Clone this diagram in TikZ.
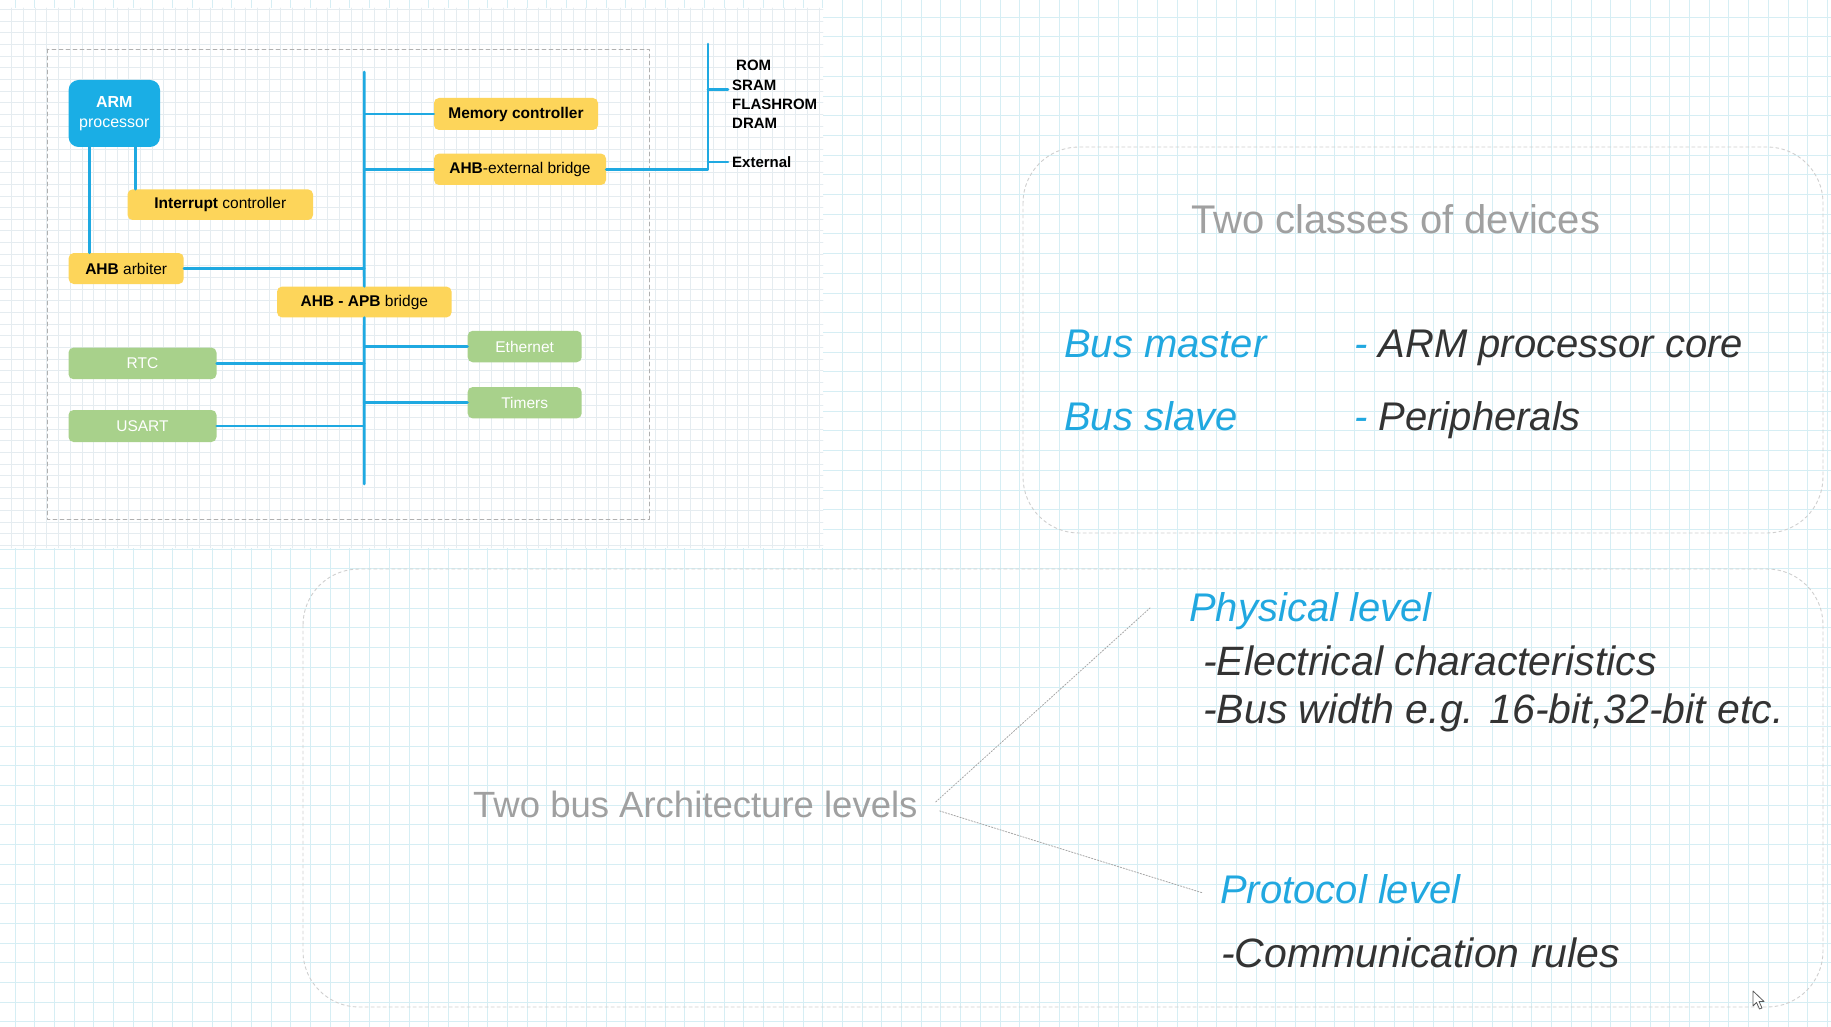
\documentclass[tikz,border=0pt]{standalone}
\usepackage{fontspec}
\setmainfont{Liberation Sans}
\definecolor{armblue}{HTML}{1AAEE5}
\definecolor{busblue}{HTML}{1FA9E1}
\definecolor{ahbyellow}{HTML}{FDD55A}
\definecolor{apbgreen}{HTML}{A8D18B}
\definecolor{gridcyan}{HTML}{D6EEF4}
\definecolor{gridgrey}{HTML}{E5ECF0}
\definecolor{panelgrey}{HTML}{CFCFCF}
\definecolor{titlegrey}{HTML}{A0A0A0}
\definecolor{textdark}{HTML}{333333}
\definecolor{textblue}{HTML}{21A8E0}
\newcommand{\fsz}[2]{\fontsize{#1}{#2}\selectfont}
\begin{document}
\begin{tikzpicture}[x=1pt, y=-1pt, line join=round, line cap=round,
  bus/.style={draw=busblue, line width=2.6pt},
  blk/.style={rounded corners=5pt, inner sep=0pt, font=\fsz{15.5}{19}},
  ahbblk/.style={blk, fill=ahbyellow, text=black},
  apbblk/.style={blk, fill=apbgreen, text=white},
  gridline/.style={draw=gridcyan, line width=0.9pt},
  finegrid/.style={draw=gridgrey, line width=0.7pt},
  panel/.style={draw=panelgrey, dash pattern=on 3pt off 3pt, line width=0.9pt, rounded corners=56pt},
  big/.style={anchor=base west, inner sep=0pt, font=\fsz{40}{48}\itshape},
  bigger/.style={big, font=\fsz{41}{48}\itshape},
  dotline/.style={draw=gray!70, dash pattern=on 1.5pt off 1.5pt, line width=0.8pt}]
	\useasboundingbox (0,0) rectangle (1831,1027);
	
	% squared paper
	\fill[white] (0,0) rectangle (1831,1027);
	\foreach \i in {0,...,92}
	\draw[gridline] ({15+19.7*\i},0) -- ({15+19.7*\i},1027);
	\foreach \j in {0,...,51}
	\draw[gridline] (0,{17.2+19.7*\j}) -- (1831,{17.2+19.7*\j});
	\fill[white] (0,8) rectangle (823,548);
	\foreach \i in {1,...,70}
	\draw[finegrid] ({11.7*\i},8) -- ({11.7*\i},548);
	\foreach \j in {0,...,46}
	\draw[finegrid] (0,{9.5+11.65*\j}) -- (823,{9.5+11.65*\j});
	
	\draw[panelgrey!85!black, dash pattern=on 4pt off 3pt, line width=0.9pt] (47,49) rectangle (649,519);
	
	\path
	(364.2,72) coordinate (busT)
	(364.2,484) coordinate (busB)
	(708,44) coordinate (extT);
	
	\node[fill=armblue, rounded corners=10pt, minimum width=91.4pt, minimum height=67pt, text=white, align=center, font=\fsz{16}{20}] (ARM) at (114.3,113.5) {\textbf{ARM}\\processor};
	\node[ahbblk, minimum width=185.5pt, minimum height=30.6pt] (intr) at (220.3,204.7) {\textbf{Interrupt} controller};
	\node[ahbblk, minimum width=115pt, minimum height=31pt] (arb) at (126.2,268.5) {\textbf{AHB} arbiter};
	\node[ahbblk, minimum width=164pt, minimum height=32pt] (mem) at (516,114) {\textbf{Memory controller}};
	\node[ahbblk, minimum width=172pt, minimum height=31.4pt] (ext) at (520,169.3) {\textbf{AHB}-external bridge};
	\node[ahbblk, minimum width=174.5pt, minimum height=30.8pt] (apb) at (364.3,302) {\textbf{AHB - APB} bridge};
	\node[apbblk, minimum width=114pt, minimum height=31.5pt] (eth) at (524.7,346.5) {Ethernet};
	\node[apbblk, minimum width=114pt, minimum height=31.4pt] (tim) at (524.7,402.7) {Timers};
	\node[apbblk, minimum width=148pt, minimum height=31.6pt] (rtc) at (142.5,363.4) {RTC};
	\node[apbblk, minimum width=148pt, minimum height=32pt] (usart) at (142.5,426) {USART};
	\node[anchor=west, inner sep=4pt, align=left, font=\fsz{15}{19.3}\bfseries] (mlist) at (728,94.5) {\hspace*{4pt}ROM\\SRAM\\FLASHROM\\DRAM};
	\node[anchor=west, inner sep=4pt, font=\fsz{15}{18}\bfseries] (extl) at (728,162) {External};
	
	\path
	([xshift=21pt]ARM.south west) coordinate (armL)
	([xshift=-24.5pt]ARM.south east) coordinate (armR);
	
	\draw[bus] (busT) -- (apb.north);
	\draw[bus] (apb.south) -- (busB);
	\draw[bus] (armL) -- (armL |- arb.north);
	\draw[bus] (armR) -- (armR |- intr.north);
	\draw[bus] (arb.east) -- (arb.east -| busT);
	\draw[bus] (mem.west) -- (mem.west -| busT);
	\draw[bus] (ext.west) -- (ext.west -| busT);
	\draw[bus] (eth.west) -- (eth.west -| busT);
	\draw[bus] (tim.west) -- (tim.west -| busT);
	\draw[bus] (rtc.east) -- (rtc.east -| busT);
	\draw[bus] (usart.east) -- (usart.east -| busT);
	\draw[bus] (extT) |- (ext.east);
	\draw[bus] ([yshift=5pt]mlist.west) -- ++(-20,0);
	\draw[bus] (extl.west) -- (extl.west -| extT);
	
	% two classes of devices
	\draw[panel] (1023,147) rectangle (1823,533);
	\node[anchor=base west, inner sep=0pt, font=\fsz{40}{48}, text=titlegrey] (classes) at (1191,233.5) {Two classes of devices};
	\node[big, text=textblue] (master) at (1064,357) {Bus master};
	\node[big, text=textdark] (core) at (1354,357) {\textcolor{textblue}{-} ARM processor core};
	\node[big, text=textblue] (slave) at (1064,430) {Bus slave};
	\node[big, text=textdark] (periph) at (1354,430) {\textcolor{textblue}{-} Peripherals};
	
	% two bus architecture levels
	\draw[panel] (303,569) rectangle (1823,1007);
	\node[anchor=base west, inner sep=0pt, font=\fsz{36.5}{44}, text=titlegrey] (tbal) at (473,817) {Two bus Architecture levels};
	\node[big, text=textblue] (phys) at (1189,621) {Physical level};
	\node[bigger, text=textdark] (elec) at (1203,675) {-Electrical characteristics};
	\node[bigger, text=textdark] (width) at (1203,723) {-Bus width e.g. 16-bit,32-bit etc.};
	\node[big, text=textblue] (proto) at (1220,903) {Protocol level};
	\node[bigger, text=textdark] (rules) at (1221,967) {-Communication rules};
	\draw[dotline] ([xshift=18pt,yshift=2pt]tbal.east) -- ([xshift=-39pt,yshift=13pt]phys.base west);
	\draw[dotline] ([xshift=22pt,yshift=-7pt]tbal.east) -- ([xshift=-17pt,yshift=10pt]proto.base west);
	
	% mouse pointer
	\filldraw[fill=white, draw=gray!70!black, line width=0.8pt] (1753,991) -- (1753,1006) -- (1756.5,1002.5) -- (1759.5,1009) -- (1762,1008) -- (1759,1001.5) -- (1764,1001.5) -- cycle;
\end{tikzpicture}
\end{document}
